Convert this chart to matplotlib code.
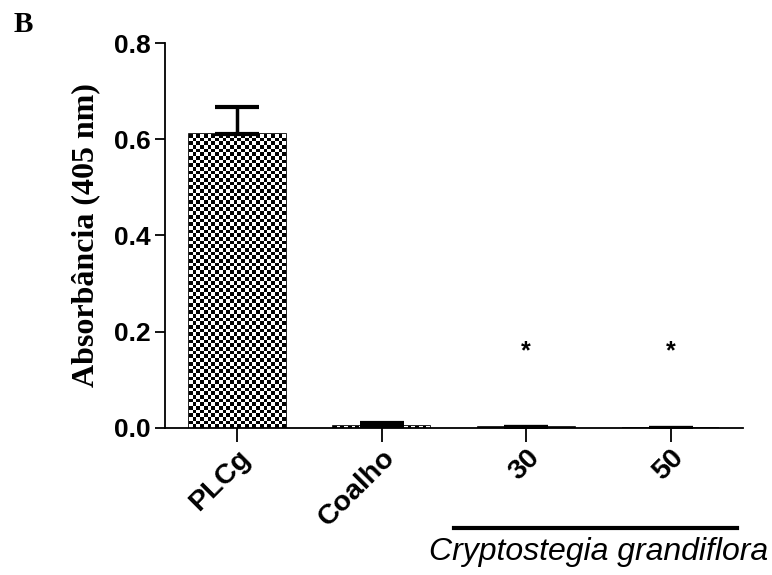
import numpy as np
import matplotlib
matplotlib.use("Agg")
import matplotlib.pyplot as plt
import matplotlib.transforms as mtransforms

# data
groups = ["PLCg", "Coalho", "30", "50"]
means = [0.61, 0.005, 0.001, 0.0005]
sems = [0.057, 0.006, 0.0, 0.0]
star_groups = [2, 3]
star_y = 0.16
yticks = [0.0, 0.2, 0.4, 0.6, 0.8]

fig = plt.figure(figsize=(7.72, 5.75), dpi=100)
ax = fig.add_axes([0.2137, 0.2557, 0.7487, 0.6695])

x = np.arange(len(groups))
bars = ax.bar(x, means, width=0.67, color="white", edgecolor="black",
              linewidth=1.2, zorder=2)
ax.errorbar(x, means, yerr=[np.zeros(len(sems)), sems], fmt="none",
            ecolor="black", elinewidth=2.5, capsize=16, capthick=3, zorder=3)

# checkered fill, clipped to each bar
checker = np.indices((200, 200)).sum(axis=0) % 2
for b in bars:
    if b.get_height() < 0.003:
        continue
    bx, by = b.get_x(), b.get_y()
    w, h = b.get_width(), b.get_height()
    nx = 26
    ny = max(1, int(round(h / 0.61 * 80)))
    im = ax.imshow(checker[:ny, :nx], cmap="gray", interpolation="nearest",
                   extent=[bx, bx + w, by, by + h], aspect="auto", zorder=2.5)
    im.set_clip_path(b)

for g in star_groups:
    ax.text(g, star_y, "*", ha="center", va="center", fontsize=18,
            fontweight="bold", family="Liberation Sans")

ax.set_xlim(-0.5, 3.5)
ax.set_ylim(0, 0.8)
ax.set_yticks(yticks)
ax.set_yticklabels([f"{v:.1f}" for v in yticks], family="Liberation Sans",
                   fontweight="bold", fontsize=19)
ax.set_xticks(x)
ax.set_xticklabels(groups, rotation=45, ha="right", rotation_mode="anchor",
                   family="Liberation Sans", fontweight="bold", fontsize=20.5)
ax.tick_params(axis="y", length=7, width=1.3, pad=3)
ax.tick_params(axis="x", length=10, width=1.3, pad=2)
for s in ["top", "right"]:
    ax.spines[s].set_visible(False)
for s in ["left", "bottom"]:
    ax.spines[s].set_linewidth(1.3)

ax.set_ylabel("Absorbância (405 nm)", family="Liberation Serif",
              fontweight="bold", fontsize=23, labelpad=10)

# group bracket for the plant extract
trans = mtransforms.blended_transform_factory(ax.transData, ax.transAxes)
ax.plot([1.5, 3.46], [-0.26, -0.26], color="black", lw=3, transform=trans,
        clip_on=False)
ax.text(2.5, -0.322, "Cryptostegia grandiflora", transform=trans,
        ha="center", va="center", style="italic", fontsize=23,
        family="Liberation Sans")

fig.text(0.017, 0.957, "B", family="Liberation Serif", fontweight="bold",
         fontsize=21, ha="left", va="center")

fig.savefig("out.png", dpi=100, facecolor="white")
